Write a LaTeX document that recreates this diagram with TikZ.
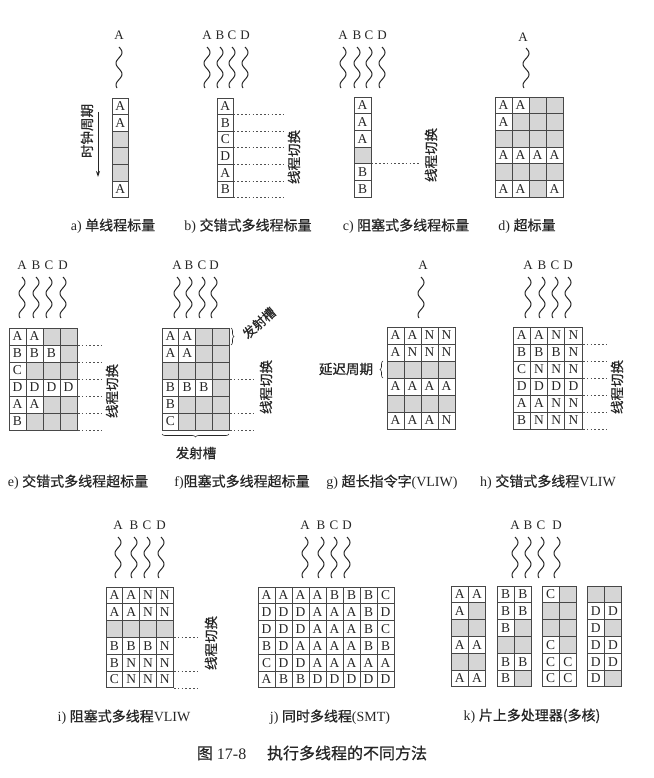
\documentclass[tikz,border=0pt]{standalone}
\usepackage{fontspec}
\setmainfont{Liberation Serif}
\newfontfamily\cjk[FakeBold=0.6]{Noto Sans CJK SC}
\usetikzlibrary{arrows.meta,decorations.pathreplacing}
\definecolor{cellgray}{HTML}{D6D6D6}
\definecolor{ink}{HTML}{262626}
\def\ctA{A}\def\ctB{B}\def\ctC{C}\def\ctD{D}\def\ctN{N}\def\ctg{}
\def\cfA{white}\def\cfB{white}\def\cfC{white}\def\cfD{white}\def\cfN{white}\def\cfg{cellgray}
\tikzset{
  celltxt/.style={font=\fontsize{13.5}{13.5}\selectfont, inner sep=0pt, text=ink},
  gridln/.style={draw=ink!85, line width=0.75pt},
  thrlbl/.style={font=\fontsize{13}{13}\selectfont, inner sep=0pt, text=ink},
  wavy/.style={line width=1pt, draw=ink},
  dotln/.style={draw=ink!80, line width=0.65pt, dash pattern=on 1.6pt off 2.2pt},
  captxt/.style={font=\fontsize{14}{15}\selectfont, inner sep=0pt, text=ink},
  vtxt/.style={font=\cjk\fontsize{13.5}{13.5}\selectfont, inner sep=0pt, rotate=90, text=ink},
  slottxt/.style={font=\cjk\fontsize{13}{13}\selectfont, inner sep=0pt, text=ink},
  brc/.style={decorate, decoration={brace, amplitude=3pt}, draw=ink, line width=0.6pt}
}
\newcommand\grd[5]{%
  \foreach \rw [count=\ri] in {#5} {%
    \foreach \cv [count=\ci] in \rw {%
      \edef\fc{\csname cf\cv\endcsname}%
      \filldraw[fill=\fc, gridln] ({#1+(\ci-1)*#3},{#2+(\ri-1)*#4}) rectangle ++(#3,#4);
      \node[celltxt] at ({#1+(\ci-0.5)*#3},{#2+(\ri-0.5)*#4}) {\csname ct\cv\endcsname};
    }%
  }%
}
\newcommand\wv[3]{\draw[wavy] plot[domain=0:1, samples=60, smooth] ({#1+3*sin(\x*680)},{#2+\x*(#3-#2)});}
\begin{document}
\begin{tikzpicture}[x=1pt, y=-1pt]
\fill[white] (0,0) rectangle (653,778);
\useasboundingbox (0,0) rectangle (653,778);

% ---------- row 1 ----------
% a
\node[thrlbl] (aA) at (119,35) {A};
\wv{119}{47}{88}
\grd{112}{98}{16.5}{16.6}{{A},{A},{g},{g},{g},{A}}
\node[vtxt] (clk) at (87,131) {时钟周期};
\coordinate (clkt) at (98,112);
\coordinate (clkb) at (98,177);
\draw[-{Stealth[length=6pt,width=4pt]}, line width=1pt, ink] (clkt) -- (clkb);
\node[captxt] (capa) at (113,226) {a) {\cjk 单线程标量}};

% b
\foreach \xx/\ll in {207/A,220/B,232/C,245/D} {\node[thrlbl] at (\xx,35) {\ll}; \wv{\xx}{47}{88}}
\grd{217}{98}{16.5}{16.6}{{A},{B},{C},{D},{A},{B}}
\foreach \k in {1,...,6} {\draw[dotln] (233.5,{98+16.6*\k}) -- (283,{98+16.6*\k});}
\node[vtxt] (swb) at (294,157) {线程切换};
\node[captxt] (capb) at (248,226) {b) {\cjk 交错式多线程标量}};

% c
\foreach \xx/\ll in {343/A,357/B,369/C,382/D} {\node[thrlbl] at (\xx,35) {\ll}; \wv{\xx}{47}{88}}
\grd{354}{97}{17}{16.7}{{A},{A},{A},{g},{B},{B}}
\draw[dotln] (371.5,163.8) -- (420,163.8);
\node[vtxt] (swc) at (431,155) {线程切换};
\node[captxt] (capc) at (406,226) {c) {\cjk 阻塞式多线程标量}};

% d
\node[thrlbl] (dA) at (523,37) {A};
\wv{526}{48}{88}
\grd{495}{97}{17}{16.7}{{A,A,g,g},{A,g,g,g},{g,g,g,g},{A,A,A,A},{g,g,g,g},{A,A,g,A}}
\node[captxt] (capd) at (527,226) {d) {\cjk 超标量}};

% ---------- row 2 ----------
% e
\foreach \xx/\ll in {22/A,36/B,49/C,63/D} {\node[thrlbl] at (\xx,265) {\ll}; \wv{\xx}{277}{318}}
\grd{9}{328}{17}{17}{{A,A,g,g},{B,B,B,g},{C,g,g,g},{D,D,D,D},{A,A,g,g},{B,g,g,g}}
\foreach \k in {1,...,6} {\draw[dotln] (78,{328+17*\k}) -- (102,{328+17*\k});}
\node[vtxt] (swe) at (112,391) {线程切换};
\node[captxt] (cape) at (78,482) {e) {\cjk 交错式多线程超标量}};

% f
\foreach \xx/\ll in {177/A,189/B,202/C,214/D} {\node[thrlbl] at (\xx,265) {\ll}; \wv{\xx}{277}{318}}
\grd{162}{328}{16.75}{17}{{A,A,g,g},{A,A,g,g},{g,g,g,g},{B,B,B,g},{B,g,g,g},{C,g,g,g}}
\coordinate (fb1) at (231,328);
\coordinate (fb2) at (231,345);
\draw[brc] (fb1) -- (fb2);
\node[slottxt, rotate=42] (fslot) at (259,323) {发射槽};
\foreach \yy in {379,413,430} {\draw[dotln] (230,\yy) -- (253,\yy);}
\node[vtxt] (swf) at (266,387) {线程切换};
\coordinate (fb3) at (229,434);
\coordinate (fb4) at (162,434);
\draw[brc] (fb3) -- (fb4);
\node[slottxt, font=\cjk\fontsize{13.5}{13.5}\selectfont] (fslot2) at (196,453) {发射槽};
\node[captxt] (capf) at (242,482) {f){\cjk 阻塞式多线程超标量}};

% g
\node[thrlbl] (gA) at (423,265) {A};
\wv{421}{277}{318}
\grd{387}{327}{17}{17}{{A,A,N,N},{A,N,N,N},{g,g,g,g},{A,A,A,A},{g,g,g,g},{A,A,A,N}}
\coordinate (gb1) at (383,378);
\coordinate (gb2) at (383,361);
\draw[brc] (gb1) -- (gb2);
\node[slottxt, font=\cjk\fontsize{13.5}{13.5}\selectfont] (gdel) at (346,369) {延迟周期};
\node[captxt] (capg) at (392,482) {g) {\cjk 超长指令字}(VLIW)};

% h
\foreach \xx/\ll in {528/A,542/B,555/C,568/D} {\node[thrlbl] at (\xx,265) {\ll}; \wv{\xx}{277}{318}}
\grd{513}{327}{17.25}{17}{{A,A,N,N},{B,B,B,N},{C,N,N,N},{D,D,D,D},{A,A,N,N},{B,N,N,N}}
\foreach \k in {1,...,6} {\draw[dotln] (583,{327+17*\k}) -- (607,{327+17*\k});}
\node[vtxt] (swh) at (617,387) {线程切换};
\node[captxt] (caph) at (548,482) {h) {\cjk 交错式多线程}VLIW};

% ---------- row 3 ----------
% i
\foreach \xx/\ll in {118/A,134/B,147/C,161/D} {\node[thrlbl] at (\xx,525) {\ll}; \wv{\xx}{537}{578}}
\grd{106}{587}{16.75}{16.8}{{A,A,N,N},{A,A,N,N},{g,g,g,g},{B,B,B,N},{B,N,N,N},{C,N,N,N}}
\foreach \yy in {637.4,671,688} {\draw[dotln] (174,\yy) -- (197,\yy);}
\node[vtxt] (swi) at (211,643) {线程切换};
\node[captxt] (capi) at (124,717) {i) {\cjk 阻塞式多线程}VLIW};

% j
\foreach \xx/\ll in {305/A,321/B,334/C,347/D} {\node[thrlbl] at (\xx,525) {\ll}; \wv{\xx}{537}{578}}
\grd{258}{587}{17}{16.8}{{A,A,A,A,B,B,B,C},{D,D,D,A,A,A,B,D},{D,D,D,A,A,A,B,C},{B,D,A,A,A,A,B,B},{C,D,D,A,A,A,A,A},{A,B,B,D,D,D,D,D}}
\node[captxt] (capj) at (330,717) {j) {\cjk 同时多线程}(SMT)};

% k
\foreach \xx/\ll in {515/A,528/B,541/C,557/D} {\node[thrlbl] at (\xx,525) {\ll}; \wv{\xx}{537}{578}}
\grd{451}{586}{17.3}{16.8}{{A,A},{A,g},{g,g},{A,A},{g,g},{A,A}}
\grd{497}{586}{17.3}{16.8}{{B,B},{B,B},{B,g},{g,g},{B,B},{B,g}}
\grd{542}{586}{17.3}{16.8}{{C,g},{g,g},{g,g},{C,g},{C,C},{C,C}}
\grd{587}{586}{17.3}{16.8}{{g,g},{D,D},{D,g},{D,D},{D,D},{D,g}}
\node[captxt] (capk) at (532,716) {k) {\cjk 片上多处理器(多核)}};

% title
\node[captxt, font=\fontsize{16}{17}\selectfont] (title) at (312,753) {{\cjk 图} 17-8\hspace{1.3em}{\cjk 执行多线程的不同方法}};
\end{tikzpicture}
\end{document}
